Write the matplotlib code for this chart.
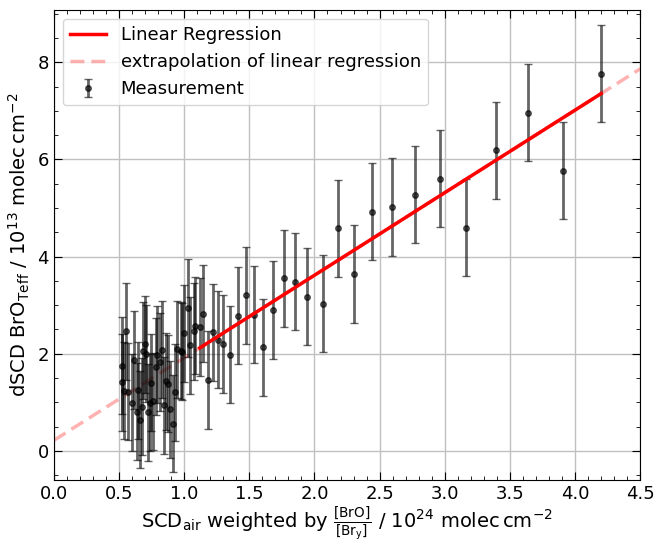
import numpy as np
import matplotlib
matplotlib.use("Agg")
import matplotlib.pyplot as plt
from matplotlib.ticker import MultipleLocator

scdWeighted = [0.527, 0.527, 0.535, 0.553, 0.571, 0.600, 0.614, 0.635, 0.645, 0.658,
               0.674, 0.686, 0.700, 0.709, 0.725, 0.735, 0.747, 0.763, 0.781, 0.794,
               0.814, 0.832, 0.847, 0.860, 0.876, 0.891, 0.912, 0.932, 0.947, 0.973,
               0.985, 0.998, 1.027, 1.044, 1.073, 1.085, 1.120, 1.147, 1.180, 1.224,
               1.257, 1.300, 1.354, 1.411, 1.477, 1.536, 1.605, 1.683, 1.769, 1.851,
               1.946, 2.063, 2.180, 2.300, 2.440, 2.597, 2.775, 2.965, 3.164, 3.392,
               3.640, 3.910, 4.200]
dscdBrO = [1.75, 1.41, 1.24, 2.46, 1.22, 0.99, 1.87, 0.81, 1.25, 0.64,
           0.91, 2.06, 2.19, 2.00, 0.79, 0.99, 1.40, 1.02, 1.73, 1.98,
           1.83, 2.08, 0.94, 1.43, 1.38, 0.86, 0.56, 1.21, 2.09, 2.06,
           2.04, 2.42, 2.94, 2.17, 2.46, 2.58, 2.55, 2.82, 1.46, 2.44,
           2.29, 2.20, 1.98, 2.78, 3.20, 2.80, 2.13, 2.90, 3.55, 3.48,
           3.17, 3.03, 4.58, 3.64, 4.92, 5.02, 5.27, 5.60, 4.59, 6.19,
           6.96, 5.77, 7.76]
dscdErr = 1.0

# regression result
slope = 1.70
intercept = 0.215
fitRange = [1.12, 4.2]
extrapRange = [0.0, 4.5]

fig, ax = plt.subplots(figsize=(6.56, 5.43), dpi=100)

xe = np.array(extrapRange)
ax.plot(xe, slope * xe + intercept, color="red", alpha=0.3, linestyle="--",
        linewidth=2.5, dashes=(4, 2), label="extrapolation of linear regression", zorder=2)
xf = np.array(fitRange)
ax.plot(xf, slope * xf + intercept, color="red", linewidth=2.5,
        label="Linear Regression", zorder=4)
ax.errorbar(scdWeighted, dscdBrO, yerr=dscdErr, fmt="o", color="black", alpha=0.6,
            markersize=4, elinewidth=2, capsize=3, capthick=1, label="Measurement", zorder=3)

ax.set_xlim(0, 4.5)
ax.set_ylim(-0.6, 9.08)
ax.xaxis.set_major_locator(MultipleLocator(0.5))
ax.xaxis.set_minor_locator(MultipleLocator(0.1))
ax.yaxis.set_major_locator(MultipleLocator(2))
ax.yaxis.set_minor_locator(MultipleLocator(0.5))
ax.tick_params(which="both", direction="in", top=True, right=True, labelsize=13)
ax.tick_params(which="major", length=6)
ax.tick_params(which="minor", length=3)
ax.grid(True, which="major", color="#c0c0c0", linewidth=1)
ax.set_axisbelow(True)

ax.set_xlabel(r"SCD$_{\mathrm{air}}$ weighted by $\frac{[\mathrm{BrO}]}{[\mathrm{Br_y}]}$ / 10$^{24}$ molec$\,$cm$^{-2}$",
              fontsize=14, labelpad=1)
ax.set_ylabel(r"dSCD BrO$_{\mathrm{Teff}}$ / 10$^{13}$ molec$\,$cm$^{-2}$", fontsize=14)

handles, labels = ax.get_legend_handles_labels()
order = [1, 0, 2]
ax.legend([handles[i] for i in order], [labels[i] for i in order],
          loc="upper left", fontsize=13)

fig.subplots_adjust(left=0.082, right=0.976, top=0.982, bottom=0.116)
fig.savefig("out.png")
